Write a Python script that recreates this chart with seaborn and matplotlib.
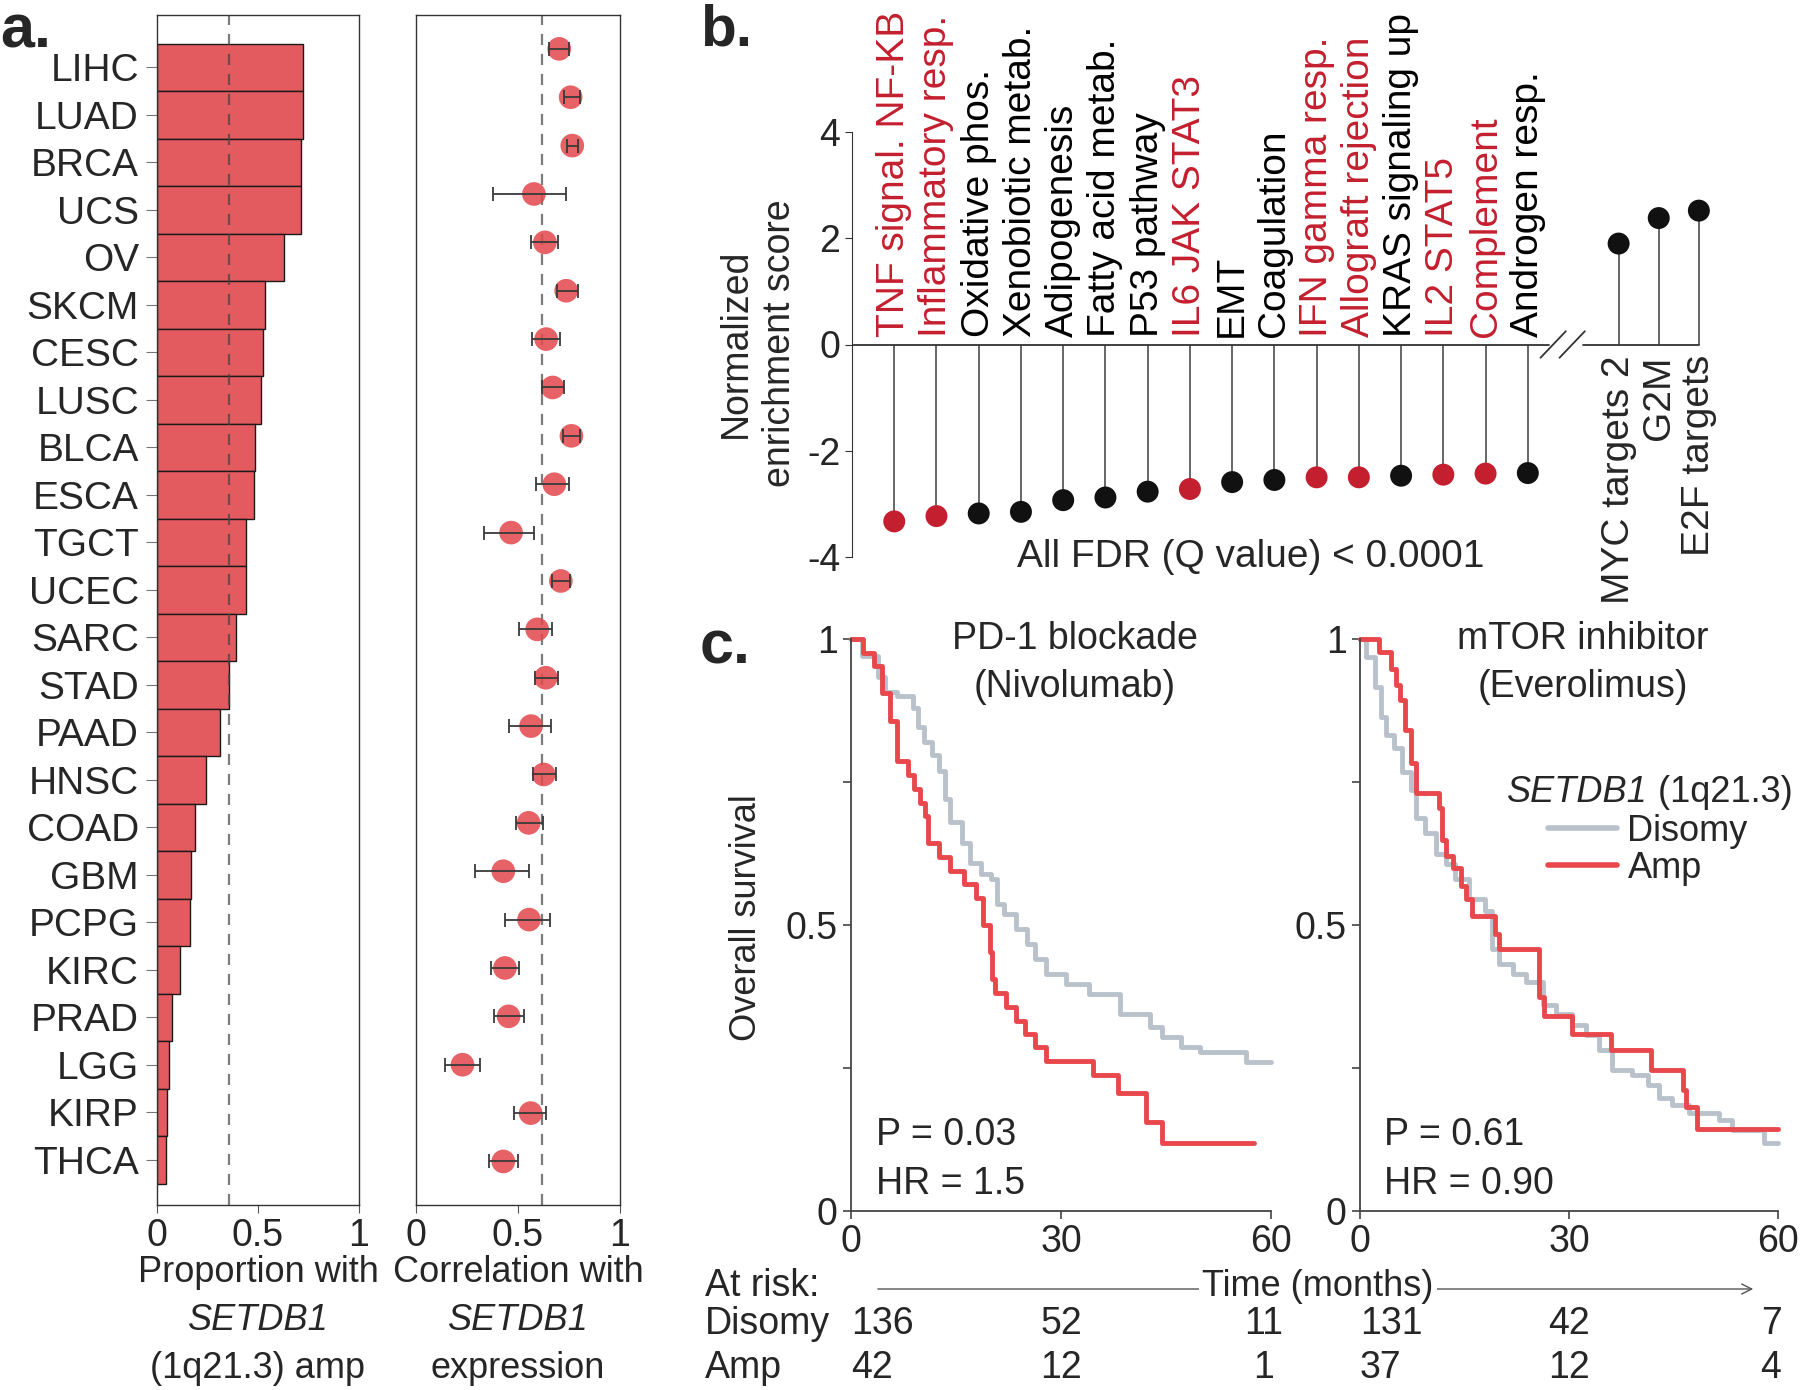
import numpy as np
import pandas as pd
import matplotlib
matplotlib.use("Agg")
import matplotlib.pyplot as plt
import seaborn as sns
from matplotlib.lines import Line2D
from matplotlib.transforms import blended_transform_factory

# ---- a. SETDB1 (1q21.3) amplification across TCGA cohorts
cancers = ["LIHC", "LUAD", "BRCA", "UCS", "OV", "SKCM", "CESC", "LUSC", "BLCA", "ESCA",
           "TGCT", "UCEC", "SARC", "STAD", "PAAD", "HNSC", "COAD", "GBM", "PCPG", "KIRC",
           "PRAD", "LGG", "KIRP", "THCA"]
amp_prop = [0.723, 0.721, 0.715, 0.711, 0.629, 0.537, 0.525, 0.513, 0.487, 0.479,
            0.441, 0.443, 0.393, 0.357, 0.313, 0.244, 0.190, 0.166, 0.162, 0.112,
            0.074, 0.058, 0.048, 0.046]
corr = [0.702, 0.758, 0.766, 0.578, 0.632, 0.736, 0.638, 0.670, 0.762, 0.678,
        0.466, 0.710, 0.594, 0.636, 0.564, 0.626, 0.552, 0.428, 0.554, 0.436,
        0.454, 0.228, 0.562, 0.428]
corr_lo = [0.652, 0.726, 0.742, 0.376, 0.562, 0.692, 0.570, 0.618, 0.722, 0.590,
           0.332, 0.666, 0.506, 0.582, 0.458, 0.574, 0.488, 0.288, 0.434, 0.366,
           0.382, 0.142, 0.478, 0.358]
corr_hi = [0.752, 0.802, 0.792, 0.734, 0.696, 0.794, 0.704, 0.724, 0.802, 0.748,
           0.580, 0.754, 0.666, 0.694, 0.662, 0.686, 0.622, 0.556, 0.656, 0.506,
           0.528, 0.312, 0.638, 0.500]
amp_ref = 0.357
corr_ref = 0.62

# ---- b. hallmark gene sets, normalized enrichment score
down_sets = ["TNF signal. NF-KB", "Inflammatory resp.", "Oxidative phos.", "Xenobiotic metab.",
             "Adipogenesis", "Fatty acid metab.", "P53 pathway", "IL6 JAK STAT3", "EMT",
             "Coagulation", "IFN gamma resp.", "Allograft rejection", "KRAS signaling up",
             "IL2 STAT5", "Complement", "Androgen resp."]
down_nes = [-3.33, -3.23, -3.18, -3.15, -2.93, -2.88, -2.77, -2.72, -2.59,
            -2.55, -2.50, -2.50, -2.47, -2.45, -2.43, -2.42]
down_immune = [1, 1, 0, 0, 0, 0, 0, 1, 0, 0, 1, 1, 0, 1, 1, 0]
up_sets = ["MYC targets 2", "G2M", "E2F targets"]
up_nes = [1.90, 2.38, 2.52]

# ---- c. overall survival (step points)
nivo_dis_t = [0, 1.6, 3.8, 4.9, 6.6, 8.8, 9.6, 10.4, 11.5, 12.6, 13.4, 14.2, 15.9, 17.0, 18.6,
              20.0, 20.8, 21.9, 23.6, 25.2, 26.3, 27.9, 30.7, 34.0, 38.4, 42.7, 44.4, 47.1,
              49.9, 56.4, 60]
nivo_dis_s = [1, 0.97, 0.934, 0.907, 0.90, 0.88, 0.846, 0.82, 0.797, 0.77, 0.72, 0.68, 0.643,
              0.608, 0.59, 0.581, 0.537, 0.52, 0.493, 0.467, 0.44, 0.414, 0.396, 0.379, 0.344,
              0.322, 0.304, 0.286, 0.278, 0.26, 0.26]
nivo_amp_t = [0, 1.75, 3.3, 4.4, 5.5, 6.5, 8.2, 9.0, 9.8, 10.5, 11.0, 12.6, 14.2, 16.2, 17.8,
              18.9, 19.8, 20.2, 20.6, 22.2, 23.6, 24.9, 26.3, 27.9, 34.5, 38.1, 42.2, 44.4, 57.5]
nivo_amp_s = [1, 0.976, 0.952, 0.905, 0.857, 0.786, 0.762, 0.738, 0.714, 0.69, 0.643, 0.619,
              0.595, 0.571, 0.548, 0.5, 0.452, 0.405, 0.381, 0.357, 0.333, 0.31, 0.286, 0.262,
              0.238, 0.207, 0.155, 0.119, 0.119]
evero_dis_t = [0, 0.8, 2.2, 3.0, 3.7, 4.9, 6.1, 7.3, 8.0, 9.4, 10.9, 12.3, 13.7, 15.6, 18.0,
               19.0, 19.9, 21.9, 23.8, 26.2, 28.1, 30.5, 32.5, 34.3, 36.2, 39.1, 41.4, 42.9,
               44.8, 47.2, 51.5, 53.4, 58.0, 60]
evero_dis_s = [1, 0.969, 0.916, 0.863, 0.832, 0.81, 0.767, 0.736, 0.687, 0.66, 0.625, 0.607,
               0.581, 0.546, 0.524, 0.458, 0.432, 0.414, 0.401, 0.361, 0.344, 0.326, 0.308,
               0.282, 0.247, 0.238, 0.22, 0.198, 0.185, 0.172, 0.159, 0.141, 0.119, 0.119]
evero_amp_t = [0, 2.7, 4.4, 5.1, 5.7, 6.5, 7.3, 8.0, 11.3, 11.8, 12.3, 13.3, 14.5, 15.2, 16.1,
               19.4, 19.9, 25.7, 26.4, 30.5, 36.0, 41.7, 46.3, 46.8, 48.4, 60]
evero_amp_s = [1, 0.978, 0.947, 0.92, 0.894, 0.841, 0.784, 0.731, 0.705, 0.648, 0.621, 0.6,
               0.568, 0.546, 0.515, 0.484, 0.458, 0.374, 0.341, 0.31, 0.282, 0.247, 0.211,
               0.181, 0.143, 0.143]

risk_times = [0, 30, 60]
nivo_risk_dis = [136, 52, 11]
nivo_risk_amp = [42, 12, 1]
evero_risk_dis = [131, 42, 7]
evero_risk_amp = [37, 12, 4]

# ---- style
sns.set_style("ticks")
plt.rcParams["font.family"] = ["Liberation Sans", "DejaVu Sans"]
plt.rcParams["axes.unicode_minus"] = False

RED_BAR = "#E35B5E"
RED_DOT = "#E2474B"
RED_TXT = "#C41F2E"
KM_GRAY = "#B9C1CB"
KM_RED = "#E8474B"
FS = 27

W, H = 1800, 1390
fig = plt.figure(figsize=(W / 100, H / 100), dpi=100)


def px_rect(x0, y0, x1, y1):
    return [x0 / W, 1 - y1 / H, (x1 - x0) / W, (y1 - y0) / H]


# overlay axes in pixel coordinates for free-standing text
ov = fig.add_axes([0, 0, 1, 1], zorder=5)
ov.set_xlim(0, W)
ov.set_ylim(H, 0)
ov.axis("off")
ov.patch.set_visible(False)

# ---- panel a, bars
ax_a1 = fig.add_axes(px_rect(157, 15, 359, 1205))
sns.barplot(x=amp_prop, y=cancers, orient="h", color=RED_BAR, saturation=1, width=1,
            edgecolor="#1a1a1a", linewidth=1.0, ax=ax_a1)
ax_a1.axvline(amp_ref, color="#444", ls=(0, (5, 4)), lw=1.6, alpha=0.7, zorder=3)
ax_a1.set_xlim(0, 1)
ax_a1.set_ylim(23.95, -1.1)
ax_a1.set_xticks([0, 0.5, 1])
ax_a1.set_xticklabels(["0", "0.5", "1"])
ax_a1.tick_params(axis="y", labelsize=28, length=8, color="#777", pad=5)
ax_a1.tick_params(axis="x", labelsize=FS, length=6, color="#555")
ax_a1.set_xlabel("")
ax_a1.set_ylabel("")
for sp in ax_a1.spines.values():
    sp.set_visible(True)
    sp.set_color("#333")
    sp.set_linewidth(1.0)

# ---- panel a, correlation dots
ax_a2 = fig.add_axes(px_rect(416, 15, 620, 1205))
ypos = np.arange(len(cancers))
sns.scatterplot(x=corr, y=ypos, color=RED_DOT, s=290, alpha=0.85, edgecolor="none",
                ax=ax_a2, zorder=2)
ax_a2.errorbar(corr, ypos, xerr=[np.subtract(corr, corr_lo), np.subtract(corr_hi, corr)],
               fmt="none", ecolor="#3a3a3a", elinewidth=1.3, capsize=5, capthick=1.3, zorder=3)
ax_a2.axvline(corr_ref, color="#444", ls=(0, (5, 4)), lw=1.6, alpha=0.7, zorder=1)
ax_a2.set_xlim(0, 1)
ax_a2.set_ylim(23.9, -0.7)
ax_a2.set_yticks([])
ax_a2.set_xticks([0, 0.5, 1])
ax_a2.set_xticklabels(["0", "0.5", "1"])
ax_a2.tick_params(axis="x", labelsize=FS, length=6, color="#555")
for sp in ax_a2.spines.values():
    sp.set_visible(True)
    sp.set_color("#333")
    sp.set_linewidth(1.0)

for cx, lines in [(258, ["Proportion with", "SETDB1", "(1q21.3) amp"]),
                  (518, ["Correlation with", "SETDB1", "expression"])]:
    for k, (txt, yy) in enumerate(zip(lines, [1272, 1320, 1368])):
        ov.text(cx, yy, txt, ha="center", va="center", fontsize=26,
                style="italic" if k == 1 else "normal")

# ---- panel b, lollipops
ax_b = fig.add_axes(px_rect(852, 132, 1739, 557))
x_down = np.arange(len(down_sets))
x_up = x_down[-1] + 2.15 + 0.95 * np.arange(len(up_sets))
b_df = pd.DataFrame({
    "x": np.concatenate([x_down, x_up]),
    "nes": down_nes + up_nes,
    "grp": ["imm" if f else "oth" for f in down_immune] + ["oth"] * len(up_sets),
})
ax_b.vlines(b_df["x"], 0, b_df["nes"], color="#666", lw=1.4, zorder=1)
sns.scatterplot(data=b_df, x="x", y="nes", hue="grp", palette={"imm": RED_TXT, "oth": "#111"},
                s=250, edgecolor="none", legend=False, ax=ax_b, zorder=3)
ax_b.plot([-1, x_down[-1] + 0.5], [0, 0], color="#333", lw=1.3)
ax_b.plot([x_down[-1] + 1.3, x_up[-1]], [0, 0], color="#333", lw=1.3)
ax_b.plot([15.3, 15.9], [-0.25, 0.25], color="#333", lw=1.3)
ax_b.plot([15.75, 16.35], [-0.25, 0.25], color="#333", lw=1.3)
for xi, name, imm in zip(x_down, down_sets, down_immune):
    ax_b.text(xi, 0.15, name, rotation=90, ha="center", va="bottom", fontsize=28,
              color=RED_TXT if imm else "black")
for xi, name in zip(x_up, up_sets):
    ax_b.text(xi, -0.2, name, rotation=90, ha="center", va="top", fontsize=28)
ax_b.text(8.45, -4.0, "All FDR (Q value) < 0.0001", ha="center", va="center", fontsize=28)
ax_b.set_xlim(-1, 20)
ax_b.set_ylim(-4, 4)
ax_b.set_xticks([])
ax_b.set_yticks([-4, -2, 0, 2, 4])
ax_b.set_yticklabels(["-4", "-2", "0", "2", "4"])
ax_b.tick_params(axis="y", labelsize=FS, length=5, color="#333")
ax_b.set_xlabel("")
ax_b.set_ylabel("")
for s in ["top", "right", "bottom"]:
    ax_b.spines[s].set_visible(False)
ax_b.spines["left"].set_bounds(-4, 4)
ax_b.spines["left"].set_color("#333")
ov.text(758, 343, "Normalized\nenrichment score", rotation=90, ha="center", va="center",
        fontsize=FS, linespacing=1.3)


# ---- panel c, Kaplan-Meier
def km_panel(rect, t_dis, s_dis, t_amp, s_amp, title, stats, risk_dis, risk_amp):
    ax = fig.add_axes(px_rect(*rect))
    df = pd.concat([
        pd.DataFrame({"time": t_dis, "surv": s_dis, "group": "Disomy"}),
        pd.DataFrame({"time": t_amp, "surv": s_amp, "group": "Amp"}),
    ], ignore_index=True)
    sns.lineplot(data=df, x="time", y="surv", hue="group", hue_order=["Disomy", "Amp"],
                 palette={"Disomy": KM_GRAY, "Amp": KM_RED}, drawstyle="steps-post",
                 estimator=None, sort=False, lw=3.5, legend=False, ax=ax)
    for ln in ax.lines:
        ln.set_clip_on(False)
    ax.set_xlim(0, 60)
    ax.set_ylim(0, 1)
    ax.set_xticks([0, 30, 60])
    ax.set_yticks([0, 0.25, 0.5, 0.75, 1])
    ax.set_yticklabels(["0", "", "0.5", "", "1"])
    ax.tick_params(labelsize=FS, length=6, width=1.2, color="#444")
    ax.set_xlabel("")
    ax.set_ylabel("")
    sns.despine(ax=ax)
    for s in ["left", "bottom"]:
        ax.spines[s].set_color("#444")
        ax.spines[s].set_linewidth(1.3)
    ax.text(32, 0.958, title, ha="center", va="center", fontsize=FS, linespacing=1.45)
    ax.text(3.5, 0.09, stats, ha="left", va="center", fontsize=FS, linespacing=1.45)
    trans = blended_transform_factory(ax.transData, ov.transData)
    for t, nd, na, ha in zip(risk_times, risk_dis, risk_amp, ["left", "center", "center"]):
        xt = t if t < 60 else 59
        ax.text(xt, 1324, str(nd), transform=trans, ha=ha, va="center", fontsize=FS)
        ax.text(xt, 1368, str(na), transform=trans, ha=ha, va="center", fontsize=FS)
    return ax


ax_c1 = km_panel((851, 639, 1271, 1211), nivo_dis_t, nivo_dis_s, nivo_amp_t, nivo_amp_s,
                 "PD-1 blockade\n(Nivolumab)", "P = 0.03\nHR = 1.5", nivo_risk_dis, nivo_risk_amp)
ax_c2 = km_panel((1360, 639, 1778, 1211), evero_dis_t, evero_dis_s, evero_amp_t, evero_amp_s,
                 "mTOR inhibitor\n(Everolimus)", "P = 0.61\nHR = 0.90", evero_risk_dis,
                 evero_risk_amp)

# legend: entries via matplotlib legend, title as two texts (italic gene name)
handles = [Line2D([], [], color=KM_GRAY, lw=4), Line2D([], [], color=KM_RED, lw=4)]
ax_c2.legend(handles, ["Disomy", "Amp"], frameon=False,
             loc="upper left", bbox_to_anchor=(1548 / W, 1 - 814 / H),
             bbox_transform=fig.transFigure, fontsize=26,
             handlelength=1.9, handletextpad=0.3, labelspacing=0.05, borderpad=0,
             borderaxespad=0)
ov.text(1648, 792, "SETDB1", ha="right", va="center", fontsize=26, style="italic")
ov.text(1648, 792, " (1q21.3)", ha="left", va="center", fontsize=26)

ov.text(746, 918, "Overall survival", rotation=90, ha="center", va="center", fontsize=26)
ov.text(705, 1286, "At risk:", ha="left", va="center", fontsize=FS)
ov.text(705, 1324, "Disomy", ha="left", va="center", fontsize=FS)
ov.text(705, 1368, "Amp", ha="left", va="center", fontsize=FS)
ov.annotate("", xy=(1756, 1289), xytext=(875, 1289),
            arrowprops=dict(arrowstyle="->", color="#555", lw=1.0, mutation_scale=18))
ov.text(1318, 1286, "Time (months)", ha="center", va="center", fontsize=26,
        bbox=dict(facecolor="white", edgecolor="none", pad=2))

# panel letters
ov.text(0, 48, "a.", fontsize=44, fontweight="bold", va="baseline")
ov.text(700, 46, "b.", fontsize=42, fontweight="bold", va="baseline")
ov.text(700, 664, "c.", fontsize=44, fontweight="bold", va="baseline")

fig.savefig("out.png", dpi=100)
